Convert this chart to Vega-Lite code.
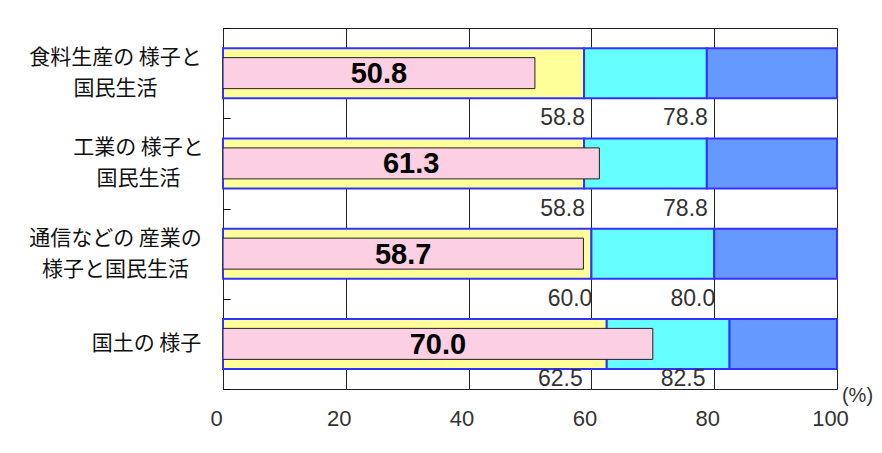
{
  "$schema": "https://vega.github.io/schema/vega-lite/v6.json",
  "width": 614,
  "height": 361,
  "autosize": {"type": "none"},
  "padding": {"left": 223, "top": 28, "right": 45, "bottom": 64},
  "background": "white",
  "config": {
    "view": {"stroke": "#222", "strokeWidth": 1},
    "scale": {"bandPaddingInner": 0, "bandPaddingOuter": 0}
  },
  "datasets": {
    "seg": [
      {"cat": "食料生産の 様子と|国民生活", "seg": "a", "start": 0, "end": 58.8},
      {"cat": "食料生産の 様子と|国民生活", "seg": "b", "start": 58.8, "end": 78.8},
      {"cat": "食料生産の 様子と|国民生活", "seg": "c", "start": 78.8, "end": 100},
      {"cat": "工業の 様子と|国民生活", "seg": "a", "start": 0, "end": 58.8},
      {"cat": "工業の 様子と|国民生活", "seg": "b", "start": 58.8, "end": 78.8},
      {"cat": "工業の 様子と|国民生活", "seg": "c", "start": 78.8, "end": 100},
      {"cat": "通信などの 産業の|様子と国民生活", "seg": "a", "start": 0, "end": 60.0},
      {"cat": "通信などの 産業の|様子と国民生活", "seg": "b", "start": 60.0, "end": 80.0},
      {"cat": "通信などの 産業の|様子と国民生活", "seg": "c", "start": 80.0, "end": 100},
      {"cat": "国土の 様子", "seg": "a", "start": 0, "end": 62.5},
      {"cat": "国土の 様子", "seg": "b", "start": 62.5, "end": 82.5},
      {"cat": "国土の 様子", "seg": "c", "start": 82.5, "end": 100}
    ],
    "val": [
      {"cat": "食料生産の 様子と|国民生活", "value": 50.8},
      {"cat": "工業の 様子と|国民生活", "value": 61.3},
      {"cat": "通信などの 産業の|様子と国民生活", "value": 58.7},
      {"cat": "国土の 様子", "value": 70.0}
    ]
  },
  "resolve": {"scale": {"x": "independent"}},
  "layer": [
    {
      "data": {"name": "seg"},
      "mark": {"type": "bar", "size": 50, "stroke": "#3333ff", "strokeWidth": 2},
      "encoding": {
        "y": {
          "field": "cat", "type": "nominal",
          "scale": {"domain": ["食料生産の 様子と|国民生活", "工業の 様子と|国民生活", "通信などの 産業の|様子と国民生活", "国土の 様子"]},
          "axis": {
            "title": null, "domain": false, "ticks": true, "tickBand": "extent",
            "tickSize": -7, "tickColor": "#000", "tickWidth": 1,
            "labelExpr": "indexof(datum.label, '|') >= 0 ? [split(datum.label, '|')[0], '\u200b', split(datum.label, '|')[1]] : ['\u200b', datum.label]",
            "labelFont": "Noto Sans CJK JP", "labelFontSize": 21, "labelLineHeight": 15.5,
            "labelColor": "#111", "labelAlign": "center", "labelBaseline": "middle",
            "labelOffset": -15.5,
            "labelPadding": {"condition": [
              {"test": "datum.value == '工業の 様子と|国民生活'", "value": 92},
              {"test": "datum.value == '国土の 様子'", "value": 84}
            ], "value": 115},
            "labelLimit": 300
          }
        },
        "x": {
          "field": "start", "type": "quantitative",
          "scale": {"domain": [0, 100]},
          "axis": {
            "values": [0, 20, 40, 60, 80, 100], "grid": true, "gridColor": "#222", "gridWidth": 1,
            "ticks": false, "domain": false, "labelFlush": false, "labelOffset": -7,
            "labelFont": "Liberation Sans", "labelFontSize": 22, "labelColor": "#333", "labelPadding": 19,
            "title": "(%)", "titleX": 634, "titleY": 6, "titleAlign": "center", "titleBaseline": "middle",
            "titleFont": "Liberation Sans", "titleFontSize": 20, "titleFontWeight": "normal", "titleColor": "#333"
          }
        },
        "x2": {"field": "end"},
        "color": {
          "field": "seg", "type": "nominal",
          "scale": {"domain": ["a", "b", "c"], "range": ["#ffff99", "#66ffff", "#6699ff"]},
          "legend": null
        }
      }
    },
    {
      "data": {"name": "val"},
      "mark": {"type": "bar", "size": 31, "fill": "#fcd0e2", "stroke": "#222", "strokeWidth": 1},
      "encoding": {
        "y": {"field": "cat", "type": "nominal"},
        "x": {"field": "value", "type": "quantitative", "scale": {"domain": [0, 100]}, "axis": null}
      }
    },
    {
      "data": {"name": "seg"},
      "transform": [{"filter": "datum.seg != 'c' && datum.cat != '国土の 様子'"}],
      "mark": {"type": "text", "font": "Liberation Sans", "fontSize": 23, "color": "#333", "align": "right", "baseline": "middle", "dx": 1},
      "encoding": {
        "y": {"field": "cat", "type": "nominal", "bandPosition": 1},
        "x": {"field": "end", "type": "quantitative", "scale": {"domain": [0, 100]}, "axis": null},
        "text": {"field": "end", "type": "quantitative", "format": ".1f"}
      }
    },
    {
      "data": {"name": "seg"},
      "transform": [{"filter": "datum.seg != 'c' && datum.cat == '国土の 様子'"}],
      "mark": {"type": "text", "font": "Liberation Sans", "fontSize": 23, "color": "#333", "align": "right", "baseline": "middle", "dx": -24, "dy": -10},
      "encoding": {
        "y": {"field": "cat", "type": "nominal", "bandPosition": 1},
        "x": {"field": "end", "type": "quantitative", "scale": {"domain": [0, 100]}, "axis": null},
        "text": {"field": "end", "type": "quantitative", "format": ".1f"}
      }
    },
    {
      "data": {"name": "val"},
      "mark": {"type": "text", "font": "Liberation Sans", "fontSize": 29, "fontWeight": "bold", "color": "#000", "align": "center", "baseline": "middle", "dy": 1},
      "encoding": {
        "y": {"field": "cat", "type": "nominal"},
        "x": {"field": "value", "type": "quantitative", "scale": {"domain": [0, 200]}, "axis": null},
        "text": {"field": "value", "type": "quantitative", "format": ".1f"}
      }
    }
  ]
}
